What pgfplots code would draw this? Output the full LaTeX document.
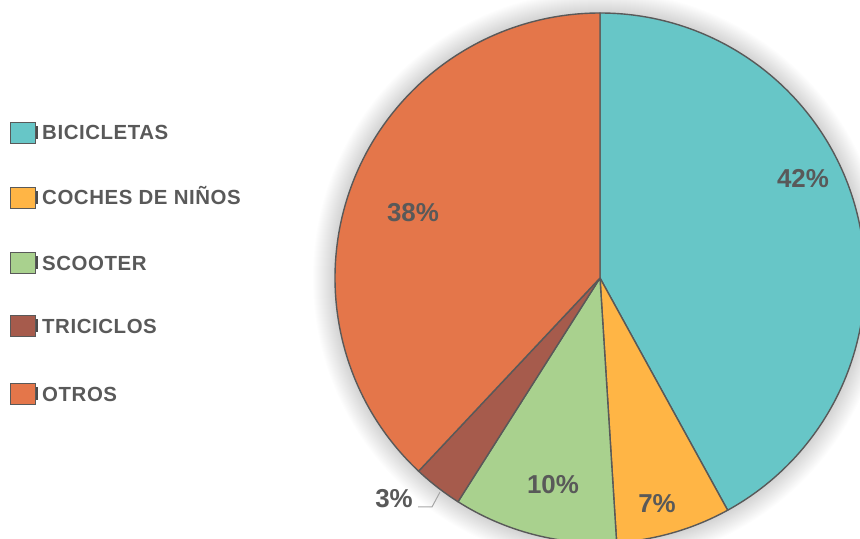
\documentclass[border=0pt]{standalone}
\usepackage{pgfplots}
\pgfplotsset{compat=1.18}
\usepackage{pgfplotstable}
\usepackage{fontspec}
\setmainfont{Liberation Sans}
\newfontfamily\lsbold{Liberation Sans Bold}
\newfontfamily\lsboldwide{Liberation Sans Bold}[LetterSpace=2.8]

\definecolor{cBici}{HTML}{67C6C7}
\definecolor{cCoche}{HTML}{FFB545}
\definecolor{cScoot}{HTML}{A9D18E}
\definecolor{cTric}{HTML}{A65B4C}
\definecolor{cOtros}{HTML}{E4764A}
\definecolor{txt}{HTML}{595959}
\definecolor{edge}{HTML}{595959}
\definecolor{leader}{HTML}{A6A6A6}

\newcommand\pctfont{\lsbold\fontsize{26}{28}\selectfont}
\newcommand\legfont{\lsboldwide\fontsize{20.5}{22}\selectfont}

% share (%), colour, label centre (lx, ly) and legend row centre (ky), in px from bottom left
\pgfplotstableread[col sep=comma]{
label,value,col,lx,ly,ky
BICICLETAS,42,cBici,803,361,406.5
COCHES DE NIÑOS,7,cCoche,657,36,341.5
SCOOTER,10,cScoot,553,55,276
TRICICLOS,3,cTric,394,41,213
OTROS,38,cOtros,413,327,145
}\piedata

\begin{document}
\begin{tikzpicture}
\begin{axis}[
  at={(0,0)}, anchor=south west,
  x=1bp, y=1bp, scale only axis,
  xmin=0, xmax=860, ymin=0, ymax=539,
  hide axis, clip=true,
]
% soft shadow round the pie
\pgfplotsforeachungrouped \k in {1,...,22}{
  \edef\cmd{\noexpand\fill[black, fill opacity=0.006]
    (axis cs:600,261) circle[radius=265bp+\k bp];}
  \cmd
}
% slices, clockwise from the top
\def\angA{90}
\pgfplotsforeachungrouped \i in {0,...,4}{
  \pgfplotstablegetelem{\i}{value}\of\piedata \let\sliceval\pgfplotsretval
  \pgfplotstablegetelem{\i}{col}\of\piedata \let\slicecol\pgfplotsretval
  \pgfmathsetmacro\angB{\angA-3.6*\sliceval}
  \edef\cmd{\noexpand\filldraw[fill=\slicecol, draw=edge, line width=1.4bp, line join=round]
    (axis cs:600,261) -- ++(\angA:265bp)
    arc[start angle=\angA, end angle=\angB, radius=265bp] -- cycle;}
  \cmd
  \let\angA\angB
}
% leader line of the 3% label
\draw[leader, line width=1bp] (axis cs:418,32) -- (axis cs:432,32) -- (axis cs:440,47);
% data labels and legend
\pgfplotsforeachungrouped \i in {0,...,4}{
  \pgfplotstablegetelem{\i}{value}\of\piedata \let\sliceval\pgfplotsretval
  \pgfplotstablegetelem{\i}{col}\of\piedata \let\slicecol\pgfplotsretval
  \pgfplotstablegetelem{\i}{label}\of\piedata \let\slicelab\pgfplotsretval
  \pgfplotstablegetelem{\i}{lx}\of\piedata \let\lx\pgfplotsretval
  \pgfplotstablegetelem{\i}{ly}\of\piedata \let\ly\pgfplotsretval
  \pgfplotstablegetelem{\i}{ky}\of\piedata \let\ky\pgfplotsretval
  \pgfmathsetmacro\lyb{\ly-9.3}
  \pgfmathsetmacro\kyb{\ky-7.3}
  \pgfmathsetmacro\kya{\ky-10.5}
  \pgfmathsetmacro\kyc{\ky+10.5}
  \pgfmathsetmacro\kbA{\ky-6.5}
  \pgfmathsetmacro\kbB{\ky+6.5}
  \edef\cmd{%
    \noexpand\node[anchor=base, inner sep=0pt, text=txt, font=\noexpand\pctfont]
      at (axis cs:\lx,\lyb) {\sliceval\noexpand\%};
    \noexpand\filldraw[fill=\slicecol, draw=edge, line width=0.9bp]
      (axis cs:10,\kya) rectangle (axis cs:35,\kyc);
    \noexpand\fill[black!70] (axis cs:35.5,\kbA) rectangle (axis cs:37.5,\kbB);
    \noexpand\node[anchor=base west, inner sep=0pt, text=txt, font=\noexpand\legfont]
      at (axis cs:42,\kyb) {\slicelab};
  }
  \cmd
}
\end{axis}
\pgfresetboundingbox
\path[use as bounding box] (0,0) rectangle (860bp,539bp);
\end{tikzpicture}
\end{document}
